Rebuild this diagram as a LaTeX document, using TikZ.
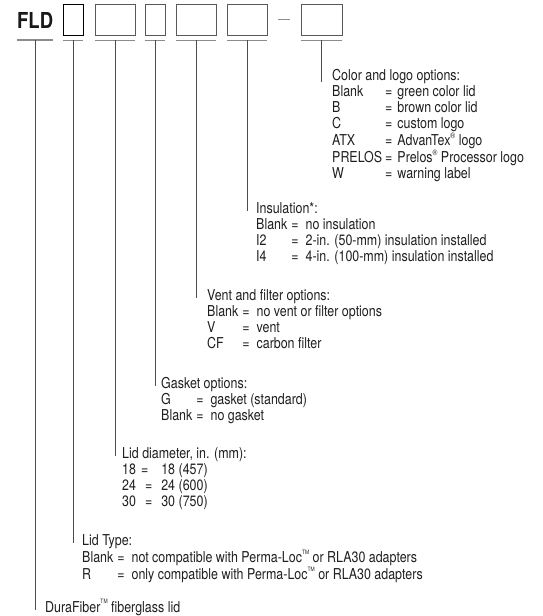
\documentclass[tikz,border=0pt]{standalone}
\usepackage{fontspec}
\setmainfont{TeX Gyre Heros}[FakeStretch=0.83]
\newfontfamily\fldfont{TeX Gyre Heros}[FakeStretch=0.84]
\newcommand\regmark{\raisebox{0.45em}{\fontsize{8}{8}\selectfont ®}}
\newcommand\tmmark{\raisebox{0.55em}{\fontsize{6}{6}\selectfont TM}}
\begin{document}
\begin{tikzpicture}[x=1pt,y=-1pt,
  codebox/.style={draw=black!65, line width=0.9pt, minimum height=31pt, inner sep=0pt},
  bar/.style={draw=black!45, line width=1.3pt},
  lead/.style={draw=black!70, line width=0.9pt},
  block/.style={anchor=base west, inner sep=0pt, text=black!88, font=\fontsize{15}{16.2}\selectfont},
]
\useasboundingbox (0,0) rectangle (542,616);
\renewcommand\arraystretch{1}

% code line
\node[anchor=base west, inner sep=0pt, text=black!90, font=\fldfont\bfseries\fontsize{22}{22}\selectfont] (fld) at (17,28) {FLD};
\node[codebox, draw=black, minimum width=20pt] (b1) at (73,19.5) {};
\node[codebox, minimum width=40pt] (b2) at (115,19.5) {};
\node[codebox, minimum width=20pt] (b3) at (155,19.5) {};
\node[codebox, minimum width=40pt] (b4) at (196,19.5) {};
\node[codebox, minimum width=40pt] (b5) at (247,19.5) {};
\node[codebox, minimum width=41pt] (b6) at (321.5,19.5) {};
\coordinate (d1) at (278,19);
\coordinate (d2) at (290,19);
\draw[bar, line width=1pt] (d1) -- (d2);

% bars under the code
\coordinate (t0) at (35,40);
\draw[bar] (fld.west |- t0) -- (fld.east |- t0);
\foreach \b in {b1,b2,b3,b4,b5,b6}{
  \draw[bar] ([yshift=-5pt]\b.south west) -- ([yshift=-5pt]\b.south east);
}

% text blocks
\node[block] (color) at (332,80) {\begin{tabular}[t]{@{}l@{\hspace{3pt}}l@{\hspace{5pt}}l@{}}
\multicolumn{3}{@{}l@{}}{Color and logo options:}\\
Blank & = & green color lid\\
B & = & brown color lid\\
C & = & custom logo\\
ATX & = & AdvanTex\regmark{} logo\\
PRELOS & = & Prelos\regmark{} Processor logo\\
W & = & warning label
\end{tabular}};

\node[block] (insul) at (256,213) {\begin{tabular}[t]{@{}l@{\hspace{4pt}}l@{\hspace{7pt}}l@{}}
\multicolumn{3}{@{}l@{}}{Insulation*:}\\
Blank & = & no insulation\\
I2 & = & 2-in. (50-mm) insulation installed\\
I4 & = & 4-in. (100-mm) insulation installed
\end{tabular}};

\node[block] (vent) at (207,300) {\begin{tabular}[t]{@{}l@{\hspace{4pt}}l@{\hspace{7pt}}l@{}}
\multicolumn{3}{@{}l@{}}{Vent and filter options:}\\
Blank & = & no vent or filter options\\
V & = & vent\\
CF & = & carbon filter
\end{tabular}};

\node[block] (gasket) at (161,388) {\begin{tabular}[t]{@{}l@{\hspace{4pt}}l@{\hspace{7pt}}l@{}}
\multicolumn{3}{@{}l@{}}{Gasket options:}\\
G & = & gasket (standard)\\
Blank & = & no gasket
\end{tabular}};

\node[block] (diam) at (122,458) {\begin{tabular}[t]{@{}l@{\hspace{9pt}}l@{\hspace{9pt}}l@{}}
\multicolumn{3}{@{}l@{}}{Lid diameter, in. (mm):}\\
18 & \hspace{-4pt}= & 18 (457)\\
24 & = & 24 (600)\\
30 & = & 30 (750)
\end{tabular}};

\node[block] (type) at (82,545) {\begin{tabular}[t]{@{}l@{\hspace{4pt}}l@{\hspace{7pt}}l@{}}
\multicolumn{3}{@{}l@{}}{Lid Type:}\\
Blank & = & not compatible with Perma-Loc\tmmark{} or RLA30 adapters\\
R & = & only compatible with Perma-Loc\tmmark{} or RLA30 adapters
\end{tabular}};

\node[block] (dura) at (45,612) {DuraFiber\tmmark{} fiberglass lid};

% leader lines
\draw[lead] (t0) -- ([yshift=2pt]t0 |- dura.base);
\draw[lead] ([yshift=-5pt]b1.south) -- ([yshift=2pt]b1.south |- type.base);
\draw[lead] ([yshift=-5pt]b2.south) -- ([yshift=2pt]b2.south |- diam.base);
\draw[lead] ([yshift=-5pt]b3.south) -- ([yshift=2pt]b3.south |- gasket.base);
\draw[lead] ([yshift=-5pt]b4.south) -- ([yshift=2pt]b4.south |- vent.base);
\draw[lead] ([yshift=-5pt]b5.south) -- ([yshift=2pt]b5.south |- insul.base);
\draw[lead] ([yshift=-5pt]b6.south) -- ([yshift=-2pt]b6.south |- color.base);
\end{tikzpicture}
\end{document}
